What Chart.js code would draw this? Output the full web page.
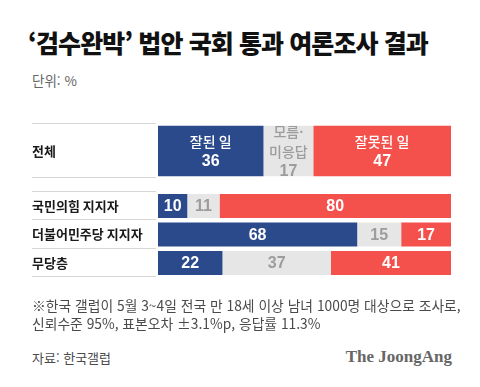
<!DOCTYPE html>
<html lang="ko">
<head>
<meta charset="utf-8">
<script src="https://cdn.jsdelivr.net/npm/chart.js@4.4.1/dist/chart.umd.min.js"></script>
<style>
  html, body { margin: 0; padding: 0; background: #fff; }
  body { width: 480px; height: 387px; position: relative; overflow: hidden; font-family: "Noto Sans CJK KR", sans-serif; }
  #title { position: absolute; left: 28px; top: 30px; font-size: 25px; line-height: 25px; font-weight: 900; letter-spacing: -0.9px; color: #111; white-space: nowrap; }
  #unit { position: absolute; left: 32px; top: 74px; font-size: 13.5px; line-height: 13px; color: #666; }
  .box { position: absolute; left: 32px; width: 419px; }
  #topBox { top: 116px; height: 70px; }
  #restBox { top: 184px; height: 101px; }
  #note { position: absolute; left: 32px; top: 296px; font-size: 13.8px; line-height: 18px; color: #4a4a4a; white-space: nowrap; }
  #source { position: absolute; left: 32px; top: 351px; font-size: 13px; line-height: 13px; color: #4a4a4a; }
  #brand { position: absolute; right: 28px; top: 349px; font-family: "Liberation Serif", serif; font-weight: 700; font-size: 17px; line-height: 16px; color: #666; }
</style>
</head>
<body>
<div id="title">‘검수완박’ 법안 국회 통과 여론조사 결과</div>
<div id="unit">단위: %</div>
<div class="box" id="topBox"><canvas id="topChart"></canvas></div>
<div class="box" id="restBox"><canvas id="restChart"></canvas></div>
<div id="note">※한국 갤럽이 5월 3~4일 전국 만 18세 이상 남녀 1000명 대상으로 조사로,<br>신뢰수준 95%, 표본오차 ±3.1%p, 응답률 11.3%</div>
<div id="source">자료: 한국갤럽</div>
<div id="brand">The JoongAng</div>
<script>
// data
const categories = ['전체', '국민의힘 지지자', '더불어민주당 지지자', '무당층'];
const seriesNames = ['잘된 일', '모름·미응답', '잘못된 일'];
const goodValues = [36, 10, 68, 22];
const unsureValues = [17, 11, 15, 37];
const badValues = [47, 80, 17, 41];

const seriesValues = [goodValues, unsureValues, badValues];
const barColors = ['#2a4a8c', '#e6e6e6', '#f4514d'];
const textColors = ['#ffffff', '#9c9c9c', '#ffffff'];

// thin rules between the rows, under the label column
const rowLines = {
  id: 'rowLines',
  afterDraw(chart) {
    const ctx = chart.ctx;
    const area = chart.chartArea;
    const n = chart.data.labels.length;
    const step = (area.bottom - area.top) / n;
    ctx.save();
    ctx.fillStyle = '#d6d6d6';
    for (let k = 0; k <= n; k++) {
      const py = Math.round(area.top + k * step) - 1;
      ctx.fillRect(0, py, area.left - 2, 1);
    }
    ctx.restore();
  }
};

// writes the numbers (and names on the first row) inside each segment
const barText = {
  id: 'barText',
  afterDatasetsDraw(chart, args, opts) {
    const ctx = chart.ctx;
    const area = chart.chartArea;
    ctx.save();
    ctx.textAlign = 'center';
    ctx.textBaseline = 'middle';
    chart.data.datasets.forEach((ds, di) => {
      chart.getDatasetMeta(di).data.forEach((bar, i) => {
        const left = Math.min(bar.base, area.right);
        const right = Math.min(bar.x, area.right);
        const cx = (left + right) / 2;
        let lines = [];
        if (opts.withNames) {
          lines = ds.label.split(/(?<=·)/).map(t => ({ t, font: '500 14px "Noto Sans CJK KR"' }));
        }
        lines.push({ t: String(ds.data[i]), font: 'bold 16px "Liberation Sans", Arial' });
        const gap = 20;
        let y = bar.y + 1 - (lines.length - 1) * gap / 2;
        ctx.fillStyle = textColors[di];
        lines.forEach(l => {
          ctx.font = l.font;
          ctx.fillText(l.t, cx, y);
          y += gap;
        });
      });
    });
    ctx.restore();
  }
};

function makeChart(id, from, to, barPct, withNames) {
  const datasets = seriesNames.map((name, k) => ({
    label: name,
    data: seriesValues[k].slice(from, to),
    backgroundColor: barColors[k],
    borderWidth: 0,
    categoryPercentage: 1,
    barPercentage: barPct,
    clip: 0
  }));
  const config = {
    type: 'bar',
    data: { labels: categories.slice(from, to), datasets: datasets },
    options: {
      indexAxis: 'y',
      responsive: true,
      maintainAspectRatio: false,
      animation: false,
      layout: { padding: { top: 1, bottom: 1, left: 0, right: 0 } },
      scales: {
        x: { stacked: true, min: 0, max: 100, display: false },
        y: {
          stacked: true,
          border: { display: false },
          grid: { display: false },
          ticks: {
            crossAlign: 'far',
            padding: 0,
            color: '#1a1a1a',
            font: { family: '"Noto Sans CJK KR"', size: 13, weight: 'bold' }
          },
          afterFit(scale) { scale.width = 126; }
        }
      },
      plugins: {
        legend: { display: false },
        tooltip: { enabled: false },
        barText: { withNames: withNames }
      }
    },
    plugins: [rowLines, barText]
  };
  return new Chart(document.getElementById(id).getContext('2d'), config);
}

makeChart('topChart', 0, 1, 63 / 68, true);
makeChart('restChart', 1, 4, 28 / 33, false);
</script>
</body>
</html>
